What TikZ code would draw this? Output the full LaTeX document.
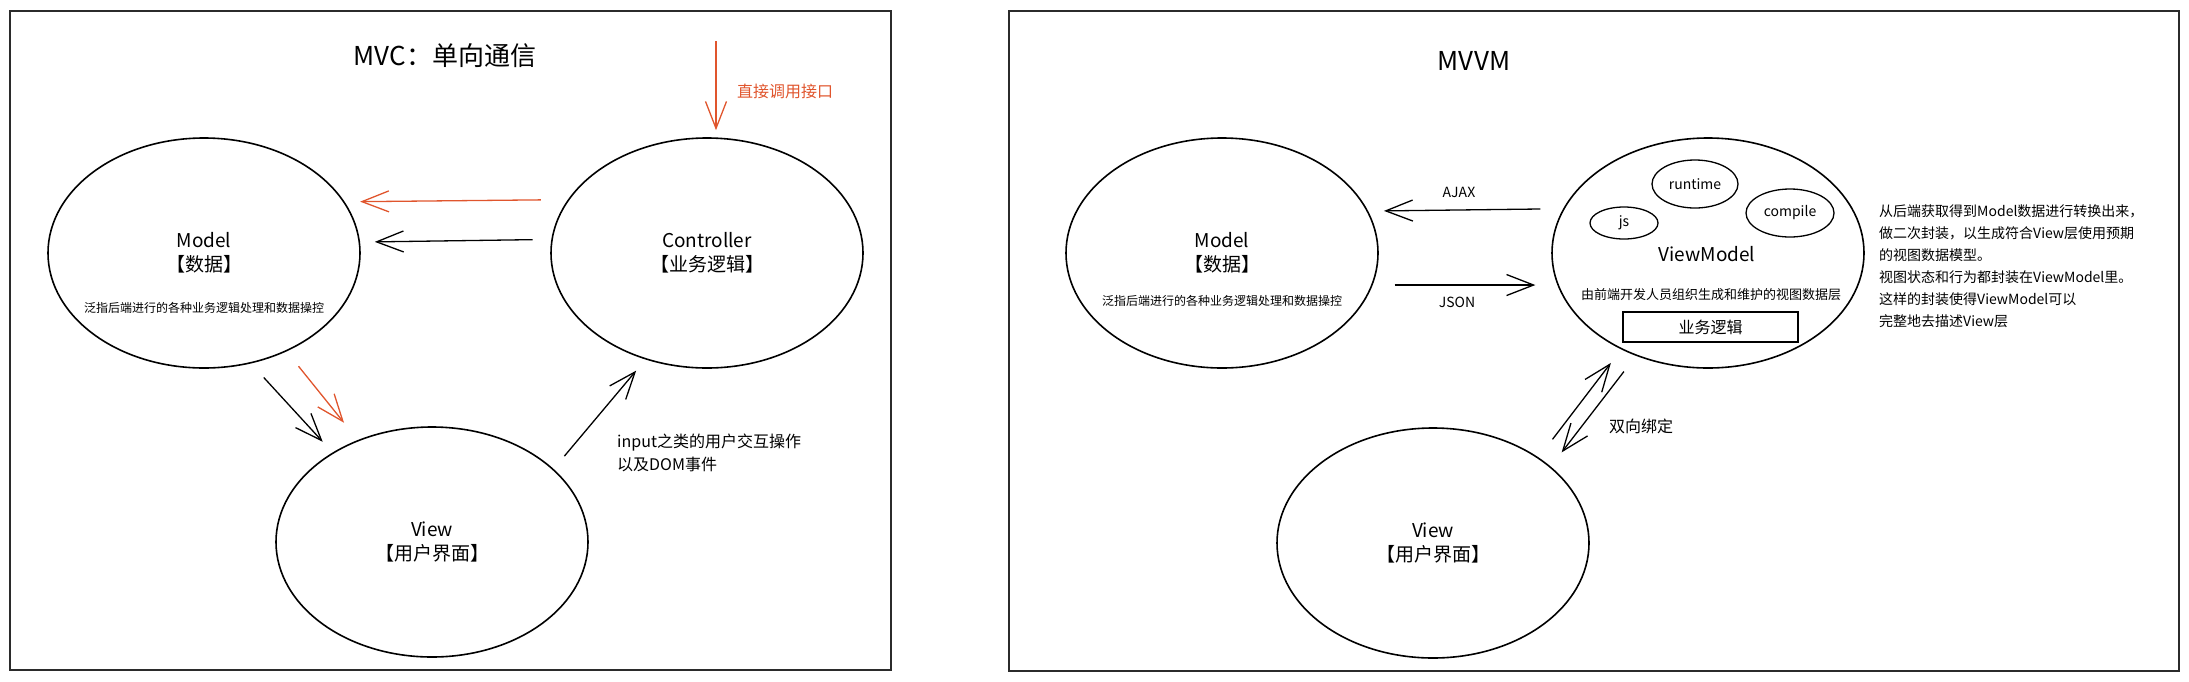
\documentclass[tikz,border=0pt]{standalone}
\usepackage{fontspec}
\setmainfont{Noto Sans CJK SC}
\usetikzlibrary{shapes.geometric,arrows.meta}
\definecolor{callred}{HTML}{E0552D}
\definecolor{framegray}{HTML}{2B2B2B}

\begin{document}
\begin{tikzpicture}[x=1pt,y=-1pt,
    bubble/.style={draw,ellipse,line width=1.6pt,minimum width=312pt,minimum height=230pt,inner sep=0pt,align=center,font=\fontsize{19}{24}\selectfont},
    minibubble/.style={draw,ellipse,line width=1.3pt,inner sep=0pt,font=\fontsize{14}{16}\selectfont},
    flow/.style={-{Straight Barb[length=27pt,width=21pt]},line width=1.3pt},
    redflow/.style={flow,callred},
    remark/.style={align=left,anchor=west,inner sep=0pt}]

    \useasboundingbox (0,0) rectangle (2189,681);

    % Draw frames
    \draw[line width=1.5pt,framegray] (10,11) rectangle (891,670);
    \draw[line width=1.5pt,framegray] (1009,11) rectangle (2179,671);

    % Titles
    \node[font=\fontsize{26}{30}\selectfont] (mvctitle) at (445,56) {MVC：单向通信};
    \node[font=\fontsize{26}{30}\selectfont] (mvvmtitle) at (1474,61) {MVVM};

    % MVC bubbles
    \node[bubble] (model) at (204,253) {Model\\【数据】};
    \node[bubble] (ctrl) at (707,253) {Controller\\【业务逻辑】};
    \node[bubble] (view) at (432,542) {View\\【用户界面】};
    \node[font=\fontsize{12}{14}\selectfont] (modelnote) at (204,308) {泛指后端进行的各种业务逻辑处理和数据操控};

    % MVC arrows
    \coordinate (api) at (716,41);
    \draw[redflow,shorten >=7pt] (api) -- (api |- ctrl.north);
    \node[callred,font=\fontsize{16}{18}\selectfont] (apilabel) at (785,91) {直接调用接口};
    \draw[redflow,shorten <=27pt,shorten >=15.5pt] (ctrl.159.5) -- (model.20.5);
    \draw[flow,shorten <=18.7pt,shorten >=14.7pt] (ctrl.175.95) -- (model.4.05);
    \draw[flow,shorten <=19pt,shorten >=14.6pt] (model.-67.1) -- (view.138.7);
    \draw[redflow,shorten <=19pt,shorten >=22.1pt] (model.-50.4) -- (view.126.8);
    \draw[flow,shorten <=16.7pt,shorten >=14.5pt] (view.31.4) -- (ctrl.240.3);
    \node[remark,font=\fontsize{16}{23}\selectfont] (inputnote) at (617,452.5) {input之类的用户交互操作\\以及DOM事件};

    % MVVM bubbles
    \node[bubble] (model2) at (1222,253) {Model\\【数据】};
    \node[bubble] (vm) at (1708,253) {};
    \node[bubble] (view2) at (1433,543) {View\\【用户界面】};
    \node[font=\fontsize{12}{14}\selectfont] (model2note) at (1222,301) {泛指后端进行的各种业务逻辑处理和数据操控};

    % Inside the ViewModel
    \node[minibubble,minimum width=86pt,minimum height=48pt] (runtime) at (1695,184) {runtime};
    \node[minibubble,minimum width=88pt,minimum height=48pt] (compile) at (1790,213) {compile};
    \node[minibubble,minimum width=68pt,minimum height=32pt] (js) at (1624,223) {js};
    \node[font=\fontsize{19}{22}\selectfont] (vmname) at (1707,254) {ViewModel};
    \node[font=\fontsize{13}{15}\selectfont] (vmnote) at (1711,295) {由前端开发人员组织生成和维护的视图数据层};
    \node[draw,line width=1.3pt,minimum width=175pt,minimum height=30pt,inner sep=0pt,font=\fontsize{16}{18}\selectfont] (logic) at (1710.5,327) {业务逻辑};

    % MVVM arrows
    \draw[flow,shorten <=22.8pt,shorten >=15.8pt] (vm.163.9) -- (model2.16.1);
    \draw[flow,shorten <=22pt,shorten >=22pt] (model2.-12.85) -- (vm.192.85);
    \node[font=\fontsize{14}{16}\selectfont] (ajax) at (1459,192) {AJAX};
    \node[font=\fontsize{14}{16}\selectfont] (json) at (1457,302) {JSON};
    \draw[flow,shorten <=22.8pt,shorten >=17pt] (view2.39.1) -- (vm.228.9);
    \draw[flow,shorten <=19.8pt,shorten >=17.9pt] (vm.235.4) -- (view2.33.65);
    \node[font=\fontsize{16}{18}\selectfont] (bind) at (1641,426) {双向绑定};

    % Side note
    \node[remark,font=\fontsize{14}{22}\selectfont] (vmremark) at (1879,266) {从后端获取得到Model数据进行转换出来，\\做二次封装，以生成符合View层使用预期\\的视图数据模型。\\视图状态和行为都封装在ViewModel里。\\这样的封装使得ViewModel可以\\完整地去描述View层};

\end{tikzpicture}
\end{document}
